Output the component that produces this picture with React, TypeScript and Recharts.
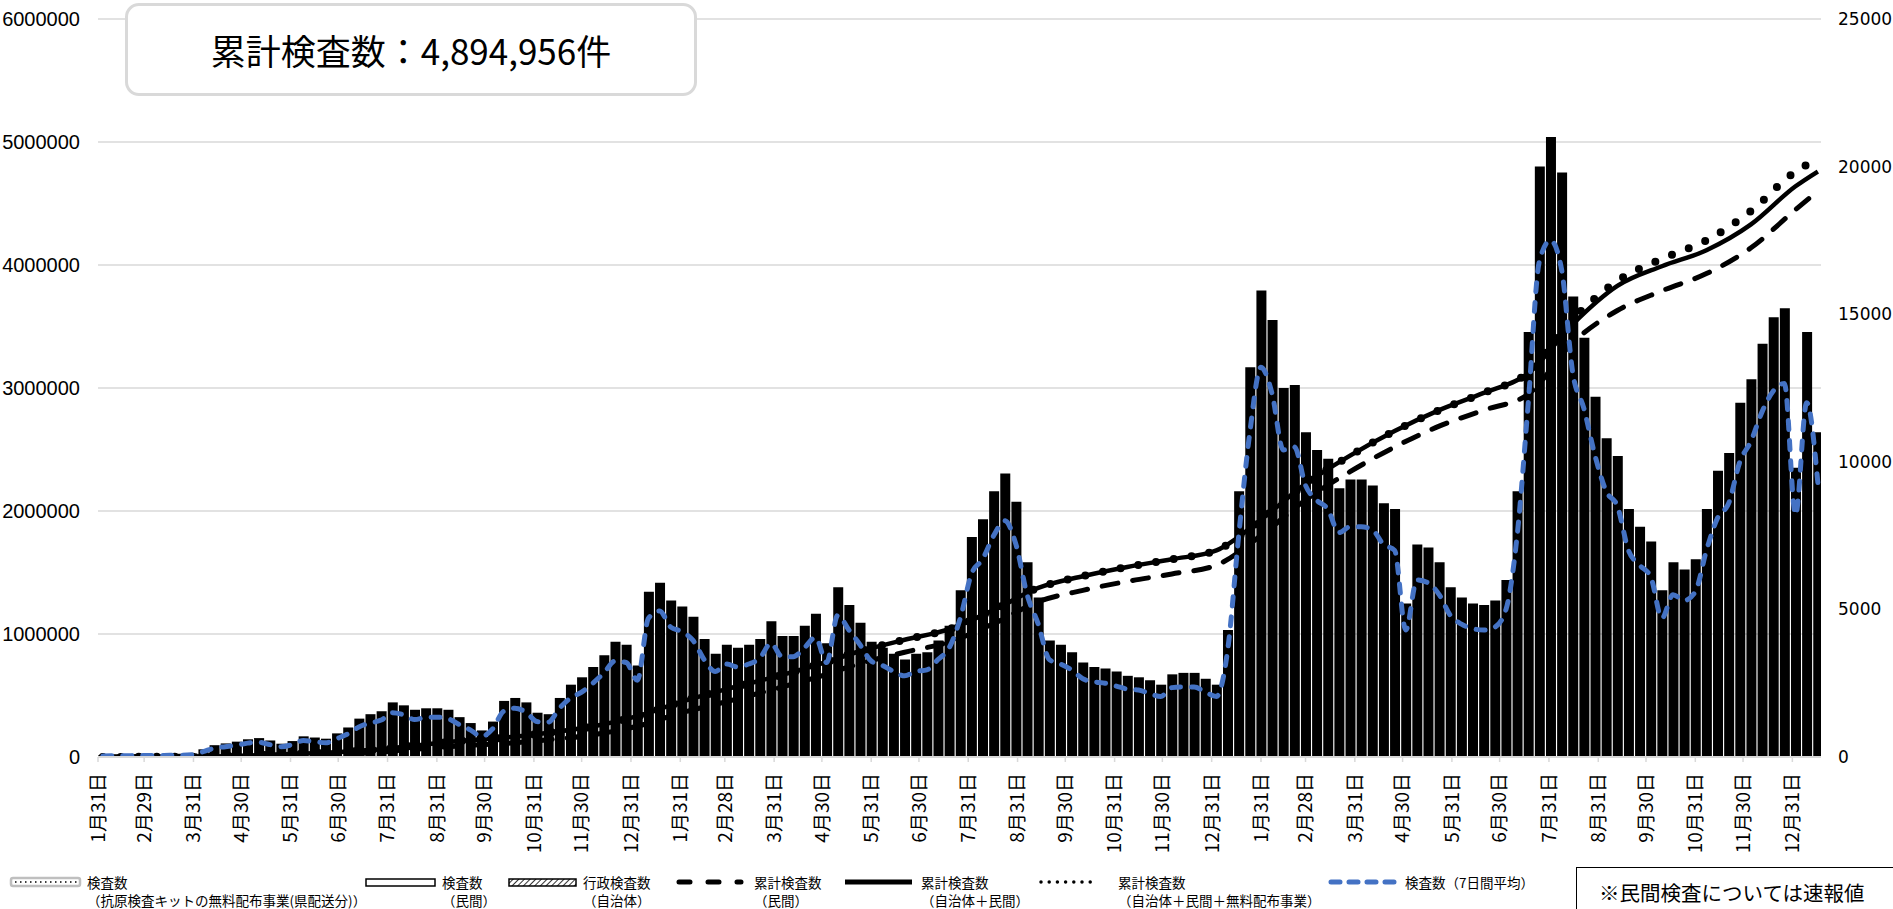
import React from 'react';
import { ComposedChart, Bar, Line, XAxis, YAxis, CartesianGrid } from 'recharts';

const W = 1893;
const H = 909;
const JP = '"Noto Sans CJK JP", "Noto Sans CJK SC", sans-serif';

// 2020年1月31日から1週ごと（155週）の日別検査数の目安（平日水準）
const weeklyTests = [
  60, 80, 70, 90, 90, 80, 100, 110, 120, 260,
  400, 460, 520, 600, 640, 560, 450, 540, 700, 660,
  620, 800, 1000, 1300, 1450, 1550, 1850, 1750, 1600, 1650,
  1650, 1600, 1350, 1150, 900, 1200, 1900, 2000, 1850, 1500,
  1450, 2000, 2450, 2700, 3050, 3450, 3900, 3800, 3100, 5600,
  5900, 5300, 5100, 4750, 4000, 3500, 3800, 3700, 3800, 4000,
  4600, 4100, 4100, 4450, 4850, 3850, 5750, 5150, 4550, 3900,
  3700, 3500, 3300, 3500, 3550, 3950, 4450, 5650, 7450, 8050,
  9000, 9600, 8650, 6600, 5400, 3950, 3800, 3550, 3200, 3050,
  3000, 2900, 2750, 2700, 2600, 2450, 2800, 2850, 2850, 2650,
  2450, 4300, 9000, 13200, 15800, 14800, 12500, 12600, 11000, 10400,
  10100, 9100, 9400, 9400, 9200, 8600, 8400, 5200, 7200, 7100,
  6600, 5750, 5400, 5200, 5150, 5300, 6000, 9000, 14400, 20000,
  21000, 19800, 15600, 14200, 12200, 10800, 10200, 8400, 7800, 7300,
  5650, 6600, 6350, 6700, 8400, 9700, 10300, 12000, 12800, 14000,
  14900, 15200, 9800, 14400, 11000,
];

// 検査数（7日間平均）
const weeklyAvg = [
  30, 40, 40, 50, 50, 50, 60, 60, 80, 180,
  300, 350, 400, 470, 500, 420, 350, 420, 560, 520,
  480, 620, 780, 1020, 1150, 1250, 1500, 1430, 1270, 1340,
  1350, 1300, 1100, 920, 700, 950, 1550, 1650, 1520, 1200,
  1180, 1650, 2000, 2200, 2500, 2850, 3250, 3200, 2600, 4700,
  4950, 4400, 4250, 3950, 3300, 2900, 3150, 3050, 3150, 3350,
  3850, 3400, 3400, 3700, 4050, 3200, 4800, 4300, 3800, 3250,
  3100, 2900, 2750, 2900, 2950, 3300, 3700, 4700, 6200, 6700,
  7500, 8000, 7200, 5500, 4500, 3300, 3150, 2950, 2650, 2550,
  2500, 2400, 2300, 2270, 2150, 2050, 2350, 2370, 2370, 2200,
  2050, 3600, 7500, 11000, 13200, 12300, 10400, 10500, 9200, 8700,
  8400, 7600, 7800, 7800, 7700, 7200, 7000, 4300, 6000, 5900,
  5500, 4800, 4500, 4350, 4300, 4400, 5000, 7500, 12000, 16800,
  17500, 16500, 13000, 11800, 10200, 9000, 8500, 7000, 6500, 6100,
  4700, 5500, 5300, 5600, 7000, 8100, 8600, 10000, 10700, 11700,
  12400, 12650, 8200, 12000, 9300,
];

// 累計（4週ごと＋最終週）
const cumPrivate = [
  0, 1000, 2000, 5000, 12000, 20000, 35000, 62000, 90000, 110000,
  140000, 180000, 250000, 360000, 450000, 545000, 645000, 760000, 852000, 935000,
  1085000, 1262000, 1355000, 1428000, 1488000, 1560000, 1800000, 2090000, 2320000, 2520000,
  2690000, 2820000, 2950000, 3370000, 3630000, 3790000, 3930000, 4140000, 4450000, 4600000,
];
const cumTotal = [
  0, 2000, 3000, 9000, 22000, 35000, 56000, 93000, 130000, 157000,
  198000, 248000, 332000, 450000, 552000, 643000, 745000, 860000, 953000, 1040000,
  1195000, 1375000, 1470000, 1545000, 1608000, 1680000, 1930000, 2220000, 2450000, 2650000,
  2820000, 2960000, 3120000, 3520000, 3830000, 3990000, 4120000, 4330000, 4640000, 4760000,
];
const cumAll = [
  0, 2000, 3000, 9000, 22000, 35000, 56000, 93000, 130000, 157000,
  198000, 248000, 332000, 450000, 552000, 643000, 745000, 860000, 953000, 1040000,
  1195000, 1375000, 1470000, 1545000, 1608000, 1680000, 1930000, 2220000, 2450000, 2650000,
  2820000, 2960000, 3125000, 3560000, 3870000, 4050000, 4200000, 4440000, 4760000, 4860000,
];

// 月末（2020/1/31 からの日数）と目盛ラベル
const tickDays = [
  0, 29, 60, 90, 121, 151, 182, 213, 243, 274, 304, 335,
  366, 394, 425, 455, 486, 516, 547, 578, 608, 639, 669, 700,
  731, 759, 790, 820, 851, 881, 912, 943, 973, 1004, 1034, 1065,
];
const tickLabels = [
  '1月31日', '2月29日', '3月31日', '4月30日', '5月31日', '6月30日',
  '7月31日', '8月31日', '9月30日', '10月31日', '11月30日', '12月31日',
  '1月31日', '2月28日', '3月31日', '4月30日', '5月31日', '6月30日',
  '7月31日', '8月31日', '9月30日', '10月31日', '11月30日', '12月31日',
  '1月31日', '2月28日', '3月31日', '4月30日', '5月31日', '6月30日',
  '7月31日', '8月31日', '9月30日', '10月31日', '11月30日', '12月31日',
];
const leftTicks = [0, 1000000, 2000000, 3000000, 4000000, 5000000, 6000000];
const rightTicks = [0, 5000, 10000, 15000, 20000, 25000];

const rows = weeklyTests.map((v, k) => {
  const last = k === weeklyTests.length - 1;
  const ci = last ? cumTotal.length - 1 : k % 4 === 0 ? k / 4 : -1;
  return {
    day: k * 7 + 3,
    tests: v,
    avg: weeklyAvg[k],
    cumPrivate: ci >= 0 ? cumPrivate[ci] : null,
    cumTotal: ci >= 0 ? cumTotal[ci] : null,
    cumAll: ci >= 0 ? cumAll[ci] : null,
  };
});

function DateTick(props: any) {
  const { x, y, payload } = props;
  const label = tickLabels[tickDays.indexOf(payload.value)];
  return (
    <text
      transform={`translate(${x},${y + 9}) rotate(-90)`}
      textAnchor="end"
      dy="0.36em"
      fontSize={19}
      fontFamily={JP}
      fill="#000"
    >
      {label}
    </text>
  );
}

function LegendLayer() {
  const r1 = 882;
  const r2 = 900;
  const t = (x: number, y: number, s: string) => (
    <text x={x} y={y} fontSize={13.5} fontFamily={JP} dominantBaseline="central" fill="#000">
      {s}
    </text>
  );
  return (
    <svg width={W} height={H} style={{ position: 'absolute', left: 0, top: 0, pointerEvents: 'none' }}>
      <defs>
        <pattern id="hatch" width="4" height="4" patternUnits="userSpaceOnUse" patternTransform="rotate(45)">
          <line x1="0" y1="0" x2="0" y2="4" stroke="#000" strokeWidth="1.6" />
        </pattern>
      </defs>
      <rect x={11} y={878} width={69} height={8} rx={2} fill="#fff" stroke="#bfbfbf" strokeWidth={2.5} />
      <line x1={15} x2={77} y1={882} y2={882} stroke="#000" strokeWidth={1.3} strokeDasharray="1.5 3.5" />
      {t(87, r1, '検査数')}
      {t(87, r2, '（抗原検査キットの無料配布事業(県配送分)）')}

      <rect x={366} y={879} width={69} height={7} fill="#fff" stroke="#000" strokeWidth={1.5} />
      {t(442, r1, '検査数')}
      {t(442, r2, '（民間）')}

      <rect x={509} y={879} width={67} height={7} fill="url(#hatch)" stroke="#000" strokeWidth={1.5} />
      {t(583, r1, '行政検査数')}
      {t(583, r2, '（自治体）')}

      <line x1={679} x2={741} y1={r1} y2={r1} stroke="#000" strokeWidth={5} strokeDasharray="11 18" strokeLinecap="round" />
      {t(754, r1, '累計検査数')}
      {t(754, r2, '（民間）')}

      <line x1={845} x2={912} y1={r1} y2={r1} stroke="#000" strokeWidth={5} />
      {t(921, r1, '累計検査数')}
      {t(921, r2, '（自治体＋民間）')}

      <line x1={1041} x2={1098} y1={r1} y2={r1} stroke="#000" strokeWidth={3.5} strokeDasharray="0 8.2" strokeLinecap="round" />
      {t(1118, r1, '累計検査数')}
      {t(1118, r2, '（自治体＋民間＋無料配布事業）')}

      <line x1={1331} x2={1397} y1={r1} y2={r1} stroke="#4472C4" strokeWidth={5} strokeDasharray="9 9" strokeLinecap="round" />
      {t(1405, r1, '検査数（7日間平均）')}
    </svg>
  );
}

export default function App() {
  return (
    <div style={{ position: 'fixed', left: 0, top: 0, width: W, height: H, overflow: 'hidden', background: '#fff' }}>
      <ComposedChart width={W} height={H} data={rows} margin={{ top: 19, right: 0, bottom: 0, left: 0 }}>
        <CartesianGrid yAxisId="left" vertical={false} stroke="#d9d9d9" strokeWidth={1.5} />
        <XAxis
          dataKey="day"
          type="number"
          scale="linear"
          domain={[0, 1083]}
          allowDataOverflow
          ticks={tickDays}
          interval={0}
          height={152}
          tickSize={5}
          axisLine={{ stroke: '#d9d9d9', strokeWidth: 2 }}
          tickLine={{ stroke: '#d9d9d9', strokeWidth: 1.5 }}
          tick={(p: any) => <DateTick {...p} />}
        />
        <YAxis
          yAxisId="left"
          orientation="left"
          width={98}
          domain={[0, 6000000]}
          ticks={leftTicks}
          interval={0}
          allowDataOverflow
          axisLine={false}
          tickLine={false}
          tickSize={0}
          tickMargin={18}
          tick={{ fontSize: 20, fill: '#000', fontFamily: '"Liberation Sans", Arial, sans-serif' }}
        />
        <YAxis
          yAxisId="right"
          orientation="right"
          width={72}
          domain={[0, 25000]}
          ticks={rightTicks}
          interval={0}
          allowDataOverflow
          axisLine={false}
          tickLine={false}
          tickSize={0}
          tickMargin={17}
          tick={{ fontSize: 17, fill: '#000', fontFamily: '"DejaVu Sans", sans-serif', textAnchor: 'start' }}
        />
        <Bar yAxisId="right" dataKey="tests" fill="#000" barSize={10} isAnimationActive={false} />
        <Line
          yAxisId="left"
          dataKey="cumPrivate"
          type="monotone"
          stroke="#000"
          strokeWidth={5}
          strokeDasharray="16 15"
          strokeLinecap="round"
          dot={false}
          activeDot={false}
          connectNulls
          isAnimationActive={false}
        />
        <Line
          yAxisId="left"
          dataKey="cumAll"
          type="monotone"
          stroke="#000"
          strokeWidth={8}
          strokeDasharray="0 18"
          strokeLinecap="round"
          dot={false}
          activeDot={false}
          connectNulls
          isAnimationActive={false}
        />
        <Line
          yAxisId="left"
          dataKey="cumTotal"
          type="monotone"
          stroke="#000"
          strokeWidth={4.5}
          dot={false}
          activeDot={false}
          connectNulls
          isAnimationActive={false}
        />
        <Line
          yAxisId="right"
          dataKey="avg"
          type="monotone"
          stroke="#4472C4"
          strokeWidth={5}
          strokeDasharray="9 11"
          strokeLinecap="round"
          dot={false}
          activeDot={false}
          isAnimationActive={false}
        />
      </ComposedChart>

      <LegendLayer />

      <div
        style={{
          position: 'absolute',
          left: 125,
          top: 3,
          width: 572,
          height: 93,
          boxSizing: 'border-box',
          border: '3px solid #d9d9d9',
          borderRadius: 14,
          background: '#fff',
          display: 'flex',
          alignItems: 'center',
          justifyContent: 'center',
          fontFamily: JP,
          fontSize: 35,
          color: '#000',
          whiteSpace: 'nowrap',
        }}
      >
        累計検査数：4,894,956件
      </div>

      <div
        style={{
          position: 'absolute',
          left: 1576,
          top: 867,
          width: W - 1576,
          height: H - 867,
          boxSizing: 'border-box',
          borderTop: '1.5px solid #000',
          borderLeft: '1.5px solid #000',
          background: '#fff',
          fontFamily: JP,
          fontSize: 20.5,
          color: '#000',
          paddingLeft: 22,
          paddingTop: 13,
          lineHeight: '22px',
          whiteSpace: 'nowrap',
        }}
      >
        ※民間検査については速報値
      </div>
    </div>
  );
}
